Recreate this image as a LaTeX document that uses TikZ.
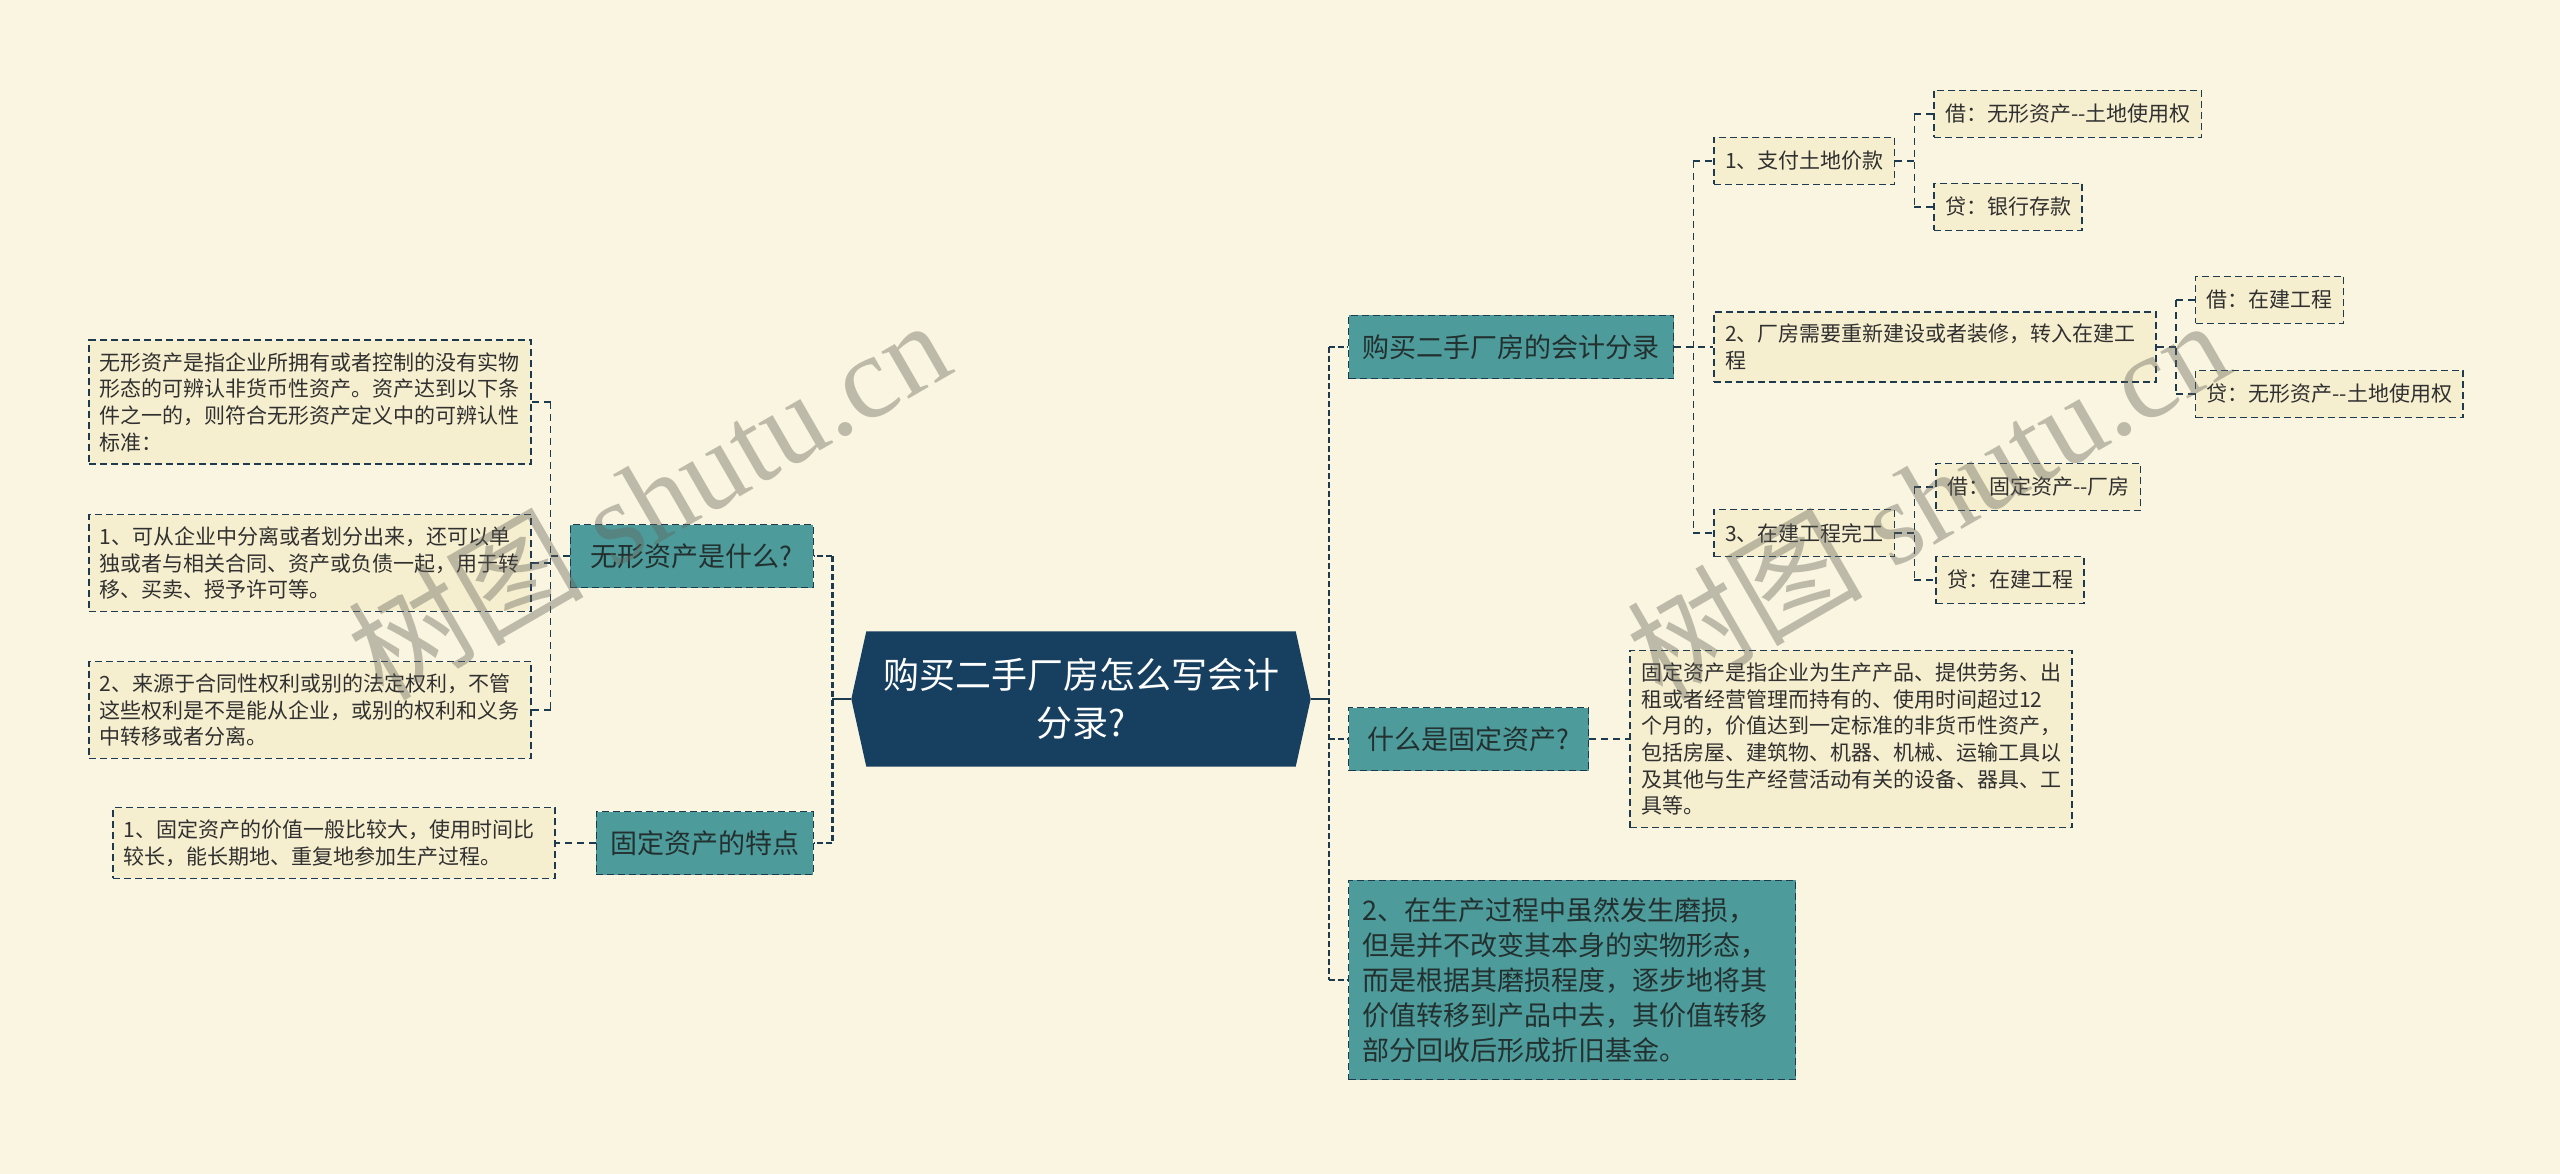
\documentclass[tikz,border=0pt]{standalone}
\usepackage{fontspec}
\usetikzlibrary{positioning,backgrounds}
\newfontfamily\cjk{Noto Sans CJK SC}
\newfontfamily\wmfont{Liberation Serif}
\definecolor{paper}{HTML}{FAF5E0}
\definecolor{hubfill}{HTML}{173F5F}
\definecolor{topicfill}{HTML}{4E9B9B}
\definecolor{leaffill}{HTML}{F6EFCF}
\definecolor{dashc}{HTML}{1E3A4E}
\definecolor{inkc}{HTML}{303030}
\definecolor{topicink}{HTML}{22302F}

\tikzset{
  dashbox/.style={draw=dashc, line width=1.4pt, dash pattern=on 7pt off 4pt, align=left},
  leaf/.style={dashbox, fill=leaffill, text=inkc, font=\cjk\fontsize{21}{26.7}\selectfont,
    inner xsep=11pt, inner ysep=12pt, minimum height=47pt},
  topic/.style={dashbox, fill=topicfill, text=topicink, font=\cjk\fontsize{27}{35}\selectfont,
    inner xsep=14pt, inner ysep=17pt, minimum height=63pt},
  hub/.style={text=white, font=\cjk\fontsize{36}{48}\selectfont, align=center,
    minimum width=459pt, minimum height=135pt},
  trunk/.style={draw=dashc, line width=2.4pt, dash pattern=on 6pt off 3pt},
  twig/.style={draw=dashc, line width=1.5pt, dash pattern=on 7pt off 5pt},
  hubline/.style={draw=dashc, line width=2.4pt},
  stamp/.style={text=black!60!paper, opacity=0.4, font=\wmfont\fontsize{118}{118}\selectfont, rotate=30}
}

\begin{document}
\begin{tikzpicture}[x=1pt, y=-1pt]
    \useasboundingbox (0,0) rectangle (2560,1174);
    % centre
    \node[hub] (hub) at (1081,699) {购买二手厂房怎么写会计\\分录?};
    \begin{scope}[on background layer]
        \fill[paper] (0,0) rectangle (2560,1174);
        \fill[hubfill] (hub.west) -- ([xshift=15pt]hub.north west) -- ([xshift=-15pt]hub.north east)
            -- (hub.east) -- ([xshift=-15pt]hub.south east) -- ([xshift=15pt]hub.south west) -- cycle;
    \end{scope}

    % right branch
    \node[topic, anchor=west] (r1) at (1348,347) {购买二手厂房的会计分录};
    \node[topic, anchor=west, minimum width=240pt] (r2) at (1348,739) {什么是固定资产?};
    \node[topic, anchor=west, text width=419pt] (r3) at (1348,980)
        {2、在生产过程中虽然发生磨损，\\但是并不改变其本身的实物形态，\\而是根据其磨损程度，逐步地将其\\价值转移到产品中去，其价值转移\\部分回收后形成折旧基金。};

    \node[leaf, right=39pt of r1, yshift=186pt] (r1a) {1、支付土地价款};
    \node[leaf, right=39pt of r1, text width=420pt] (r1b) {2、厂房需要重新建设或者装修，转入在建工\\程};
    \node[leaf, right=39pt of r1, yshift=-186pt] (r1c) {3、在建工程完工};
    \node[leaf, right=38pt of r1a, yshift=47pt] (r1a1) {借：无形资产{-}{-}土地使用权};
    \node[leaf, right=38pt of r1a, yshift=-46pt] (r1a2) {贷：银行存款};
    \node[leaf, right=38pt of r1b, yshift=47pt] (r1b1) {借：在建工程};
    \node[leaf, right=38pt of r1b, yshift=-47pt] (r1b2) {贷：无形资产{-}{-}土地使用权};
    \node[leaf, right=40pt of r1c, yshift=46pt] (r1c1) {借：固定资产{-}{-}厂房};
    \node[leaf, right=40pt of r1c, yshift=-47pt] (r1c2) {贷：在建工程};
    \node[leaf, right=40pt of r2, text width=420pt] (r2a)
        {固定资产是指企业为生产产品、提供劳务、出\\租或者经营管理而持有的、使用时间超过12\\个月的，价值达到一定标准的非货币性资产，\\包括房屋、建筑物、机器、机械、运输工具以\\及其他与生产经营活动有关的设备、器具、工\\具等。};

    % left branch
    \node[topic, anchor=east, minimum width=243pt] (l1) at (814,556) {无形资产是什么?};
    \node[topic, anchor=east] (l2) at (814,843) {固定资产的特点};
    \node[leaf, left=38pt of l1, yshift=154pt, text width=420pt] (l1a)
        {无形资产是指企业所拥有或者控制的没有实物\\形态的可辨认非货币性资产。资产达到以下条\\件之一的，则符合无形资产定义中的可辨认性\\标准：};
    \node[leaf, left=38pt of l1, yshift=-7pt, text width=420pt] (l1b)
        {1、可从企业中分离或者划分出来，还可以单\\独或者与相关合同、资产或负债一起，用于转\\移、买卖、授予许可等。};
    \node[leaf, left=38pt of l1, yshift=-154pt, text width=420pt] (l1c)
        {2、来源于合同性权利或别的法定权利，不管\\这些权利是不是能从企业，或别的权利和义务\\中转移或者分离。};
    \node[leaf, left=40pt of l2, text width=420pt] (l2a)
        {1、固定资产的价值一般比较大，使用时间比\\较长，能长期地、重复地参加生产过程。};

    % hub links
    \coordinate (rt) at ([xshift=18pt]hub.east);
    \coordinate (lt) at ([xshift=-19pt]hub.west);
    \draw[hubline] (hub.east) -- (rt);
    \draw[hubline] (hub.west) -- (lt);
    \draw[trunk] (rt |- r1.west) -- (rt |- r3.west);
    \draw[trunk] (lt |- l1.east) -- (lt |- l2.east);
    \foreach \n in {r1,r2,r3} \draw[trunk] (rt |- \n.west) -- (\n.west);
    \foreach \n in {l1,l2} \draw[trunk] (lt |- \n.east) -- (\n.east);

    % topic to leaf links
    \foreach \p/\a/\b in {r1/r1a/r1c, r1a/r1a1/r1a2, r1b/r1b1/r1b2, r1c/r1c1/r1c2}{
        \coordinate (t) at ([xshift=19pt]\p.east);
        \draw[twig] (\p.east) -- (t);
        \draw[twig] (t |- \a.west) -- (t |- \b.west);
        \draw[twig] (t |- \a.west) -- (\a.west);
        \draw[twig] (t |- \b.west) -- (\b.west);
    }
    \draw[twig] (r1.east) -- (r1b.west);
    \draw[twig] (r2.east) -- (r2a.west);
    \coordinate (lt1) at ([xshift=-19pt]l1.west);
    \draw[twig] (l1.west) -- (lt1);
    \draw[twig] (lt1 |- l1a.east) -- (lt1 |- l1c.east);
    \foreach \n in {l1a,l1b,l1c} \draw[twig] (lt1 |- \n.east) -- (\n.east);
    \draw[twig] (l2.west) -- (l2a.east);

    % watermark
    \node[stamp] (wm1) at (648,498) {{\cjk 树图} shutu.cn};
    \node[stamp] (wm2) at (1927,498) {{\cjk 树图} shutu.cn};
\end{tikzpicture}
\end{document}
